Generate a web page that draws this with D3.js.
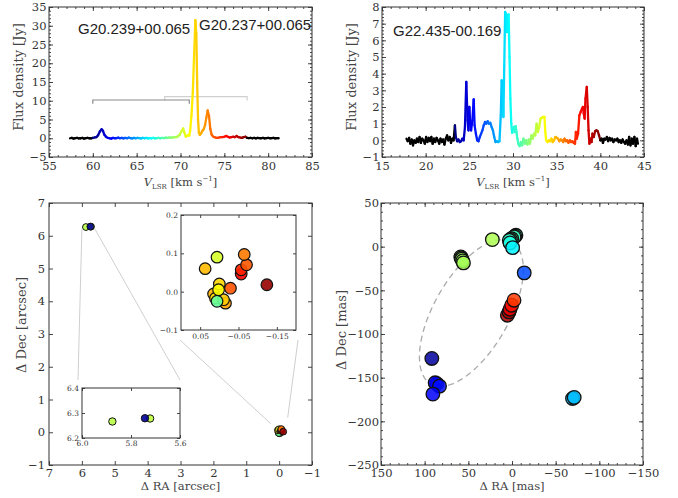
<!DOCTYPE html>
<html><head><meta charset="utf-8">
<script src="https://cdn.jsdelivr.net/npm/d3@7"></script>
<style>body{margin:0;background:#fff}</style>
</head><body>
<svg id="c" width="678" height="498"></svg>
<script>
// ---------------- DATA ----------------
const sourceNames = ["G20.239+00.065", "G20.237+00.065", "G22.435-00.169"];

// spectrum of G20.239/G20.237 : [V_LSR km/s, flux Jy]
const spec1 = [[57.4,0.0],[57.6,0.1],[57.8,-0.1],[58.0,0.05],[58.2,0.1],[58.4,-0.05],[58.6,0.0],[58.8,0.1],[59.0,-0.1],[59.2,0.05],[59.4,0.1],[59.6,0.0],[59.8,-0.05],[60.0,0.1],[60.2,0.2],[60.4,0.3],[60.6,0.8],[60.8,1.8],[61.0,2.4],[61.15,2.0],[61.3,1.0],[61.5,0.4],[61.7,0.1],[61.9,0.0],[62.1,-0.1],[62.3,0.1],[62.5,0.0],[62.7,0.05],[62.9,0.15],[63.1,0.0],[63.3,0.1],[63.5,-0.05],[63.7,0.1],[63.9,0.0],[64.1,0.15],[64.3,0.05],[64.5,-0.05],[64.7,0.1],[64.9,0.0],[65.1,0.1],[65.3,0.05],[65.5,-0.05],[65.7,0.1],[65.9,0.0],[66.1,0.1],[66.3,-0.05],[66.5,0.05],[66.7,0.0],[66.9,0.1],[67.1,-0.05],[67.3,0.05],[67.5,0.1],[67.7,0.0],[67.9,0.1],[68.1,0.05],[68.3,0.15],[68.5,0.1],[68.7,0.2],[68.9,0.15],[69.1,0.2],[69.3,0.3],[69.5,0.3],[69.7,0.5],[69.9,0.9],[70.1,1.8],[70.3,2.6],[70.45,1.5],[70.6,0.4],[70.75,0.7],[70.9,0.9],[71.0,0.7],[71.1,2.0],[71.25,6.0],[71.4,12.0],[71.55,22.0],[71.7,31.5],[71.8,28.0],[71.9,15.0],[72.0,5.0],[72.1,1.5],[72.2,0.9],[72.35,1.3],[72.5,2.0],[72.65,2.4],[72.8,3.5],[72.95,5.5],[73.1,7.4],[73.25,6.0],[73.4,2.5],[73.55,1.0],[73.7,0.5],[73.85,0.3],[74.0,0.2],[74.2,0.1],[74.4,0.2],[74.6,0.3],[74.8,0.3],[75.0,0.4],[75.2,0.6],[75.4,0.4],[75.6,0.2],[75.8,0.3],[76.0,0.4],[76.2,0.3],[76.4,0.6],[76.6,0.3],[76.8,0.2],[77.0,0.1],[77.2,0.3],[77.4,0.4],[77.6,0.1],[77.8,0.05],[78.0,0.1],[78.2,0.0],[78.4,0.1],[78.6,-0.05],[78.8,0.1],[79.0,0.05],[79.2,0.0],[79.4,0.1],[79.6,-0.05],[79.8,0.05],[80.0,0.1],[80.2,0.0],[80.4,0.05],[80.6,0.1],[80.8,-0.05],[81.0,0.05],[81.2,0.0]];
const spec1ColorRange = [60.0, 77.6];
// velocity ranges of the two sources (brackets) and their flux level
const bracketFrom = [60.0, 68.2];
const bracketTo = [71.0, 77.6];
const bracketLevel = [10.2, 11.1];

// spectrum of G22.435-00.169
const spec2 = [[17.8,0.1],[17.95,-0.05],[18.1,0.15],[18.25,-0.2],[18.4,0.05],[18.55,-0.3],[18.7,0.0],[18.85,-0.15],[19.0,0.1],[19.15,-0.1],[19.3,0.2],[19.45,-0.15],[19.6,0.1],[19.75,0.0],[19.9,-0.2],[20.05,0.2],[20.2,-0.1],[20.35,0.15],[20.5,-0.05],[20.65,0.2],[20.8,-0.2],[20.95,0.1],[21.1,-0.1],[21.25,0.15],[21.4,0.0],[21.55,-0.2],[21.7,0.1],[21.85,-0.1],[22.0,0.05],[22.15,-0.25],[22.3,0.1],[22.45,0.3],[22.6,0.0],[22.75,0.2],[22.9,-0.15],[23.05,0.1],[23.2,0.0],[23.35,0.9],[23.45,0.2],[23.6,-0.05],[23.75,0.05],[23.9,-0.1],[24.05,-0.05],[24.2,0.1],[24.35,0.0],[24.5,0.8],[24.65,3.5],[24.8,1.2],[24.9,0.6],[25.0,2.0],[25.1,1.0],[25.2,0.6],[25.35,1.2],[25.5,2.45],[25.6,0.9],[25.75,0.4],[25.9,0.0],[26.05,-0.05],[26.2,0.2],[26.35,0.4],[26.5,0.6],[26.65,0.9],[26.8,1.1],[26.95,1.0],[27.1,1.15],[27.25,1.0],[27.4,1.05],[27.55,0.8],[27.7,0.6],[27.85,0.2],[28.0,-0.1],[28.15,-0.05],[28.3,-0.1],[28.45,-0.05],[28.6,1.5],[28.7,3.6],[28.8,3.3],[28.9,1.4],[29.0,4.5],[29.1,7.7],[29.2,7.6],[29.3,6.5],[29.4,7.5],[29.5,7.55],[29.6,5.0],[29.7,2.5],[29.8,1.0],[29.9,0.45],[30.0,0.7],[30.1,0.8],[30.2,0.5],[30.3,0.85],[30.4,0.5],[30.5,0.1],[30.6,-0.2],[30.75,-0.35],[30.9,-0.1],[31.05,-0.3],[31.2,0.1],[31.35,-0.2],[31.5,0.0],[31.65,-0.25],[31.8,0.05],[31.95,-0.2],[32.1,0.3],[32.25,0.1],[32.4,0.4],[32.55,0.3],[32.7,1.0],[32.85,0.5],[33.0,0.8],[33.15,1.3],[33.3,1.35],[33.45,1.4],[33.6,1.4],[33.7,0.5],[33.8,0.0],[33.95,-0.1],[34.1,0.0],[34.25,-0.05],[34.4,0.1],[34.55,-0.1],[34.7,0.0],[34.85,0.2],[35.0,0.15],[35.15,0.1],[35.3,-0.05],[35.45,0.05],[35.6,0.0],[35.75,-0.1],[35.9,0.1],[36.05,-0.05],[36.2,0.0],[36.35,-0.15],[36.5,0.0],[36.65,-0.1],[36.8,-0.05],[36.95,-0.15],[37.1,-0.2],[37.2,0.5],[37.3,0.1],[37.45,0.4],[37.6,1.5],[37.75,1.7],[37.9,1.9],[38.0,2.0],[38.1,1.6],[38.2,1.3],[38.3,2.5],[38.45,3.2],[38.55,2.0],[38.65,0.6],[38.75,-0.2],[38.9,0.1],[39.0,-0.1],[39.1,0.4],[39.25,0.2],[39.4,0.55],[39.55,0.6],[39.7,0.55],[39.85,0.3],[40.0,0.0],[40.15,0.1],[40.3,-0.15],[40.45,0.1],[40.6,0.05],[40.75,0.2],[40.9,-0.05],[41.05,0.15],[41.2,0.0],[41.35,0.1],[41.5,-0.1],[41.65,0.05],[41.8,0.0],[41.95,0.1],[42.1,-0.1],[42.25,0.0],[42.4,-0.15],[42.55,0.05],[42.7,-0.1],[42.85,-0.2],[43.0,0.0],[43.15,-0.25],[43.3,0.2],[43.45,-0.3],[43.6,0.1],[43.75,-0.2],[43.9,0.2],[44.05,-0.35],[44.2,0.1],[44.3,-0.2]];
const spec2ColorRange = [23.3, 40.0];

// maser spots of G20.239/G20.237 (offsets in arcsec, V_LSR km/s)
const g20RA  = [5.876, 5.722, 5.743, 0.015, 0.010, -0.016, -0.011, -0.029, 0.000, 0.002, 0.006, 0.037, 0.006, -0.057, -0.057, -0.071, -0.065, -0.124];
const g20Dec = [6.266, 6.278, 6.279, -0.006, -0.017, -0.030, -0.021, 0.009, 0.020, 0.005, -0.025, 0.060, 0.090, 0.046, 0.057, 0.070, 0.097, 0.018];
const g20Vel = [69.8, 69.9, 60.4, 72.3, 71.6, 72.6, 71.9, 74.0, 71.7, 71.0, 68.3, 72.2, 70.3, 75.5, 74.8, 73.9, 73.3, 77.2];

// maser spots of G22.435-00.169 (offsets in mas, V_LSR km/s)
const g22RA  = [-4.5, -3.4, -2.3, 0.4, 1.8, 3.1, 2.3, -0.7, -14.0, 22.5, 58.6, 58.0, 57.5, 56.4, 55.6, 5.3, 3.4, 2.3, 0.4, -2.3, 91.8, 86.0, 88.0, 83.0, 90.6, -69.3, -71.2];
const g22Dec = [13.0, 12.0, 11.1, 9.2, 8.2, 7.3, 4.3, -1.1, -30.0, 8.1, -11.8, -13.0, -14.4, -16.3, -18.6, -78.5, -74.7, -71.6, -67.0, -61.3, -128.0, -157.0, -155.9, -159.7, -168.8, -173.8, -172.6];
const g22Vel = [30.9, 30.7, 30.6, 30.8, 30.5, 30.4, 30.0, 29.4, 26.6, 32.4, 32.0, 32.0, 32.1, 32.2, 32.3, 39.3, 38.8, 38.3, 37.7, 37.0, 23.8, 24.9, 25.2, 25.6, 25.4, 28.3, 28.5];
// fitted ellipse: centre RA, centre Dec (mas), semi-major, semi-minor (mas), position angle (deg)
const ellipseFit = [46.5, -76.0, 93.6, 42.9, 119.7];

// ticks
const spec1XTicks = [55, 60, 65, 70, 75, 80, 85];
const spec1YTicks = [-5, 0, 5, 10, 15, 20, 25, 30, 35];
const spec2XTicks = [15, 20, 25, 30, 35, 40, 45];
const spec2YTicks = [-1, 0, 1, 2, 3, 4, 5, 6, 7, 8];
const mapXTicks = [7, 6, 5, 4, 3, 2, 1, 0, -1];
const mapYTicks = [-1, 0, 1, 2, 3, 4, 5, 6, 7];
const vlbiXTicks = [150, 100, 50, 0, -50, -100, -150];
const vlbiYTicks = [-250, -200, -150, -100, -50, 0, 50];
const inset1XTicks = [0.05, -0.05, -0.15];
const inset1YTicks = [-0.1, 0.0, 0.1, 0.2];
const inset2XTicks = [6.0, 5.8, 5.6];
const inset2YTicks = [6.2, 6.3, 6.4];

// ---------------- DRAWING ----------------
const svg = d3.select("#c");
const SERIF = "DejaVu Serif", SANS = "Liberation Sans";
const INK = "#333";

function jet(t) {
  t = Math.max(0, Math.min(1, t));
  const c = x => Math.max(0, Math.min(1, x)) * 255;
  return d3.rgb(c(1.5 - Math.abs(4 * t - 3)), c(1.5 - Math.abs(4 * t - 2)), c(1.5 - Math.abs(4 * t - 1))).toString();
}

function axes(g, xs, ys, o) {
  const [X0, X1] = xs.range(), [Y1, Y0] = ys.range();
  const mk = (gen, tr, vals, len, fmt, pad) => {
    const a = g.append("g").attr("transform", tr)
      .call(gen.tickValues(vals).tickSize(-len).tickPadding(pad || 3).tickFormat(fmt || (() => "")));
    a.select(".domain").remove();
    a.selectAll("line").attr("stroke", INK).attr("stroke-width", 0.9);
    a.selectAll("text").attr("font-family", SERIF).attr("font-size", o.fs).attr("fill", INK);
  };
  if (o.xm) {
    mk(d3.axisBottom(xs), `translate(0,${Y1})`, o.xm, o.ml);
    mk(d3.axisTop(xs), `translate(0,${Y0})`, o.xm, o.ml);
  }
  if (o.ym) {
    mk(d3.axisLeft(ys), `translate(${X0},0)`, o.ym, o.ml);
    mk(d3.axisRight(ys), `translate(${X1},0)`, o.ym, o.ml);
  }
  mk(d3.axisBottom(xs), `translate(0,${Y1})`, o.xt, o.tl, o.xf, o.xpad);
  mk(d3.axisTop(xs), `translate(0,${Y0})`, o.xt, o.tl);
  mk(d3.axisLeft(ys), `translate(${X0},0)`, o.yt, o.tl, o.yf, o.ypad);
  mk(d3.axisRight(ys), `translate(${X1},0)`, o.yt, o.tl);
  g.append("rect").attr("x", X0).attr("y", Y0).attr("width", X1 - X0).attr("height", Y1 - Y0)
    .attr("fill", "none").attr("stroke", INK).attr("stroke-width", 1);
}

function spectrum(g, data, xs, ys, range) {
  for (let i = 0; i < data.length - 1; i++) {
    const [v0, f0] = data[i], [v1, f1] = data[i + 1], vm = (v0 + v1) / 2;
    const col = (vm >= range[0] && vm <= range[1]) ? jet((vm - range[0]) / (range[1] - range[0])) : "#000";
    g.append("line").attr("x1", xs(v0)).attr("y1", ys(f0)).attr("x2", xs(v1)).attr("y2", ys(f1))
      .attr("stroke", col).attr("stroke-width", 2.3).attr("stroke-linecap", "round");
  }
}

function vlsrLabel(g, cx, y) {
  const t = g.append("text").attr("x", cx).attr("y", y).attr("text-anchor", "middle")
    .attr("font-family", SERIF).attr("font-size", 11.5).attr("fill", "#444");
  t.append("tspan").attr("font-style", "italic").text("V");
  t.append("tspan").attr("font-size", 7).attr("dy", 3).text("LSR");
  t.append("tspan").attr("dy", -3).text(" [km s");
  t.append("tspan").attr("font-size", 7).attr("dy", -4.5).text("\u22121");
  t.append("tspan").attr("dy", 4.5).text("]");
}
function ylab(g, x, cy, txt, fs) {
  g.append("text").attr("transform", `translate(${x},${cy}) rotate(-90)`).attr("text-anchor", "middle")
    .attr("font-family", SERIF).attr("font-size", fs).attr("fill", "#444").text(txt);
}
function xlab(g, cx, y, txt, fs) {
  g.append("text").attr("x", cx).attr("y", y).attr("text-anchor", "middle")
    .attr("font-family", SERIF).attr("font-size", fs).attr("fill", "#444").text(txt);
}
const fmtInt = d3.format("d");

// ---- Panel 1 : spectrum G20 ----
{
  const g = svg.append("g");
  const xs = d3.scaleLinear().domain([55, 85]).range([49, 312]);
  const ys = d3.scaleLinear().domain([-5, 35]).range([157, 7]);
  axes(g, xs, ys, { xt: spec1XTicks, yt: spec1YTicks, xm: d3.range(56, 85, 1), ym: d3.range(-4, 35, 1),
    tl: 4, ml: 2, fs: 11.5, xf: fmtInt, yf: fmtInt, xpad: 5, ypad: 2.5 });
  const bCols = ["#8a8a8a", "#d0d0d0"];
  [1, 0].forEach(i => {
    const p = d3.path();
    p.moveTo(xs(bracketFrom[i]), ys(bracketLevel[i] - 1));
    p.lineTo(xs(bracketFrom[i]), ys(bracketLevel[i]));
    p.lineTo(xs(bracketTo[i]), ys(bracketLevel[i]));
    p.lineTo(xs(bracketTo[i]), ys(bracketLevel[i] - 1));
    g.append("path").attr("d", p.toString()).attr("fill", "none").attr("stroke", bCols[i]).attr("stroke-width", 1.2);
  });
  spectrum(g, spec1, xs, ys, spec1ColorRange);
  g.append("text").attr("x", 78).attr("y", 33.5).attr("font-family", SANS).attr("font-size", 15).attr("fill", "#222").text(sourceNames[0]);
  g.append("text").attr("x", 199).attr("y", 29.5).attr("font-family", SANS).attr("font-size", 15).attr("fill", "#222").text(sourceNames[1]);
  vlsrLabel(g, 180.5, 185.5);
  ylab(g, 23, 77, "Flux density [Jy]", 13);
}

// ---- Panel 2 : spectrum G22 ----
{
  const g = svg.append("g");
  const xs = d3.scaleLinear().domain([15, 45]).range([382, 644]);
  const ys = d3.scaleLinear().domain([-1, 8]).range([157, 7]);
  axes(g, xs, ys, { xt: spec2XTicks, yt: spec2YTicks, xm: d3.range(16, 45, 1), ym: d3.range(-0.8, 8, 0.2),
    tl: 4, ml: 2, fs: 11.5, xf: fmtInt, yf: fmtInt, xpad: 5, ypad: 2.5 });
  spectrum(g, spec2, xs, ys, spec2ColorRange);
  g.append("text").attr("x", 393).attr("y", 36).attr("font-family", SANS).attr("font-size", 15).attr("fill", "#222").text(sourceNames[2]);
  vlsrLabel(g, 513, 185.5);
  ylab(g, 356, 77, "Flux density [Jy]", 13);
}

// ---- Panel 3 : arcsec map with two insets ----
{
  const g = svg.append("g");
  const xs = d3.scaleLinear().domain([7, -1]).range([49, 312]);
  const ys = d3.scaleLinear().domain([-1, 7]).range([465, 203]);
  const xs1 = d3.scaleLinear().domain([0.1, -0.2]).range([181, 296]);
  const ys1 = d3.scaleLinear().domain([-0.1, 0.2]).range([330, 215]);
  const xs2 = d3.scaleLinear().domain([6.0, 5.6]).range([82, 180]);
  const ys2 = d3.scaleLinear().domain([6.2, 6.4]).range([438, 388]);

  axes(g, xs, ys, { xt: mapXTicks, yt: mapYTicks, tl: 4, ml: 2, fs: 11.5, xf: fmtInt, yf: fmtInt, xpad: 4, ypad: 4 });

  const conn = [
    [xs(xs2.domain()[0]), ys(ys2.domain()[0]), xs2.range()[0] - 4, ys2.range()[1] - 8],
    [xs(xs2.domain()[1]), ys(ys2.domain()[0]), xs2.range()[1], ys2.range()[1] - 8],
    [xs1.range()[0] - 1, ys1.range()[0] + 10, xs(xs1.domain()[0]) - 5, ys(ys1.domain()[1]) - 2],
    [xs1.range()[1] + 2, ys1.range()[0] + 10, xs(xs1.domain()[1]) + 2, ys(ys1.domain()[1]) - 8]
  ];
  conn.forEach(c => g.append("line").attr("x1", c[0]).attr("y1", c[1]).attr("x2", c[2]).attr("y2", c[3])
    .attr("stroke", "#cfcfcf").attr("stroke-width", 1));

  const spots = g20RA.map((r, i) => ({ ra: r, dec: g20Dec[i], v: g20Vel[i] }));
  const col = d => jet((d.v - spec1ColorRange[0]) / (spec1ColorRange[1] - spec1ColorRange[0]));
  g.append("g").selectAll("circle").data(spots).join("circle")
    .attr("cx", d => xs(d.ra)).attr("cy", d => ys(d.dec)).attr("r", 3.4)
    .attr("fill", col).attr("fill-opacity", 0.9).attr("stroke", "#111").attr("stroke-width", 1);

  const i1 = g.append("g");
  i1.append("rect").attr("x", 181).attr("y", 215).attr("width", 115).attr("height", 115).attr("fill", "#fff");
  i1.append("clipPath").attr("id", "cl1").append("rect").attr("x", 181).attr("y", 215).attr("width", 115).attr("height", 115);
  i1.append("g").attr("clip-path", "url(#cl1)").selectAll("circle").data(spots.filter(d => d.ra < 1)).join("circle")
    .attr("cx", d => xs1(d.ra)).attr("cy", d => ys1(d.dec)).attr("r", 5.8)
    .attr("fill", col).attr("fill-opacity", 0.9).attr("stroke", "#111").attr("stroke-width", 1.2);
  axes(i1, xs1, ys1, { xt: inset1XTicks, yt: inset1YTicks, tl: 3, ml: 2, fs: 7.5,
    xf: d3.format(".2f"), yf: d3.format(".1f"), xpad: 4, ypad: 3 });

  const i2 = g.append("g");
  i2.append("rect").attr("x", 82).attr("y", 388).attr("width", 98).attr("height", 50).attr("fill", "#fff");
  i2.append("g").selectAll("circle").data(spots.filter(d => d.ra > 1)).join("circle")
    .attr("cx", d => xs2(d.ra)).attr("cy", d => ys2(d.dec)).attr("r", 3.7)
    .attr("fill", col).attr("fill-opacity", 0.9).attr("stroke", "#111").attr("stroke-width", 1);
  axes(i2, xs2, ys2, { xt: inset2XTicks, yt: inset2YTicks, tl: 3, ml: 2, fs: 7.5,
    xf: d3.format(".1f"), yf: d3.format(".1f"), xpad: 3, ypad: 3 });

  xlab(g, 180.5, 490, "\u0394 RA [arcsec]", 11.5);
  ylab(g, 26, 325, "\u0394 Dec [arcsec]", 13);
}

// ---- Panel 4 : VLBI map G22 ----
{
  const g = svg.append("g");
  const xs = d3.scaleLinear().domain([150, -150]).range([381, 643]);
  const ys = d3.scaleLinear().domain([-250, 50]).range([465, 203]);
  axes(g, xs, ys, { xt: vlbiXTicks, yt: vlbiYTicks, xm: d3.range(-140, 150, 10), ym: d3.range(-240, 50, 10),
    tl: 4, ml: 2, fs: 11.5, xf: fmtInt, yf: fmtInt, xpad: 4, ypad: 2 });
  const [ec, ed, ea, eb, ep] = ellipseFit;
  const th = ep * Math.PI / 180;
  const pts = d3.range(0, 2 * Math.PI + 0.01, Math.PI / 90).map(t => {
    const u = ea * Math.cos(t), w = eb * Math.sin(t);
    return [xs(ec + u * Math.cos(th) - w * Math.sin(th)), ys(ed + u * Math.sin(th) + w * Math.cos(th))];
  });
  g.append("path").attr("d", d3.line()(pts)).attr("fill", "none").attr("stroke", "#aaa")
    .attr("stroke-width", 1.3).attr("stroke-dasharray", "6,4");
  const spots = g22RA.map((r, i) => ({ ra: r, dec: g22Dec[i], v: g22Vel[i] }));
  g.append("g").selectAll("circle").data(spots).join("circle")
    .attr("cx", d => xs(d.ra)).attr("cy", d => ys(d.dec)).attr("r", 6.8)
    .attr("fill", d => jet((d.v - spec2ColorRange[0]) / (spec2ColorRange[1] - spec2ColorRange[0])))
    .attr("fill-opacity", 0.85).attr("stroke", "#111").attr("stroke-width", 1.3);
  xlab(g, 512, 490, "\u0394 RA [mas]", 11.5);
  ylab(g, 346, 330, "\u0394 Dec [mas]", 13);
}
</script>
</body></html>
